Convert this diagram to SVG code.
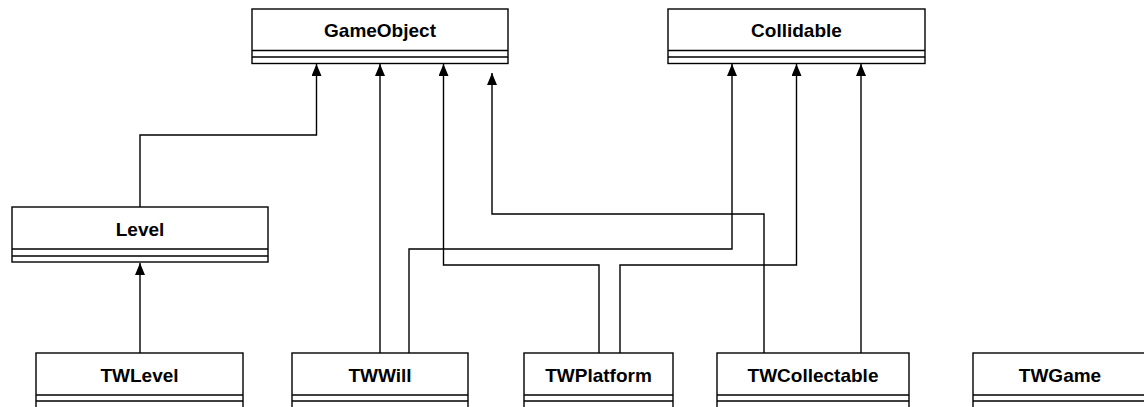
<svg xmlns="http://www.w3.org/2000/svg" width="1144" height="407" viewBox="0 0 1144 407">
<style>
.box{fill:#fff;stroke:#000;stroke-width:1.4}
.div{fill:none;stroke:#000;stroke-width:1.4}
.t{font-family:"Liberation Sans",Arial,sans-serif;font-weight:bold;font-size:19px;fill:#000;text-anchor:middle}
.c{fill:none;stroke:#000;stroke-width:1.4;marker-end:url(#arr)}
</style>
<defs>
<marker id="arr" markerUnits="userSpaceOnUse" markerWidth="13" markerHeight="11" refX="12" refY="5" orient="auto">
<path d="M0,0 L12,5 L0,10 z" fill="#000"/>
</marker>
</defs>
<rect width="1144" height="407" fill="#fff"/>
<g id="connectors">
<path class="c" d="M140,207 V135 H316.5 V64"/>
<path class="c" d="M140,353 V263"/>
<path class="c" d="M380,353 V64"/>
<path class="c" d="M409,353 V249 H732 V64"/>
<path class="c" d="M599,353 V265 H443.5 V64"/>
<path class="c" d="M620,353 V265 H796.5 V64"/>
<path class="c" d="M764,353 V214 H492 V73"/>
<path class="c" d="M861,353 V64"/>
</g>
<g id="GameObject">
<rect class="box" x="252" y="9" width="256" height="54.5"/>
<path class="div" d="M252,50.5 H508 M252,57 H508"/>
<text class="t" x="380" y="37">GameObject</text>
</g>
<g id="Collidable">
<rect class="box" x="668" y="9" width="257" height="54.5"/>
<path class="div" d="M668,50.5 H925 M668,57 H925"/>
<text class="t" x="796.5" y="37">Collidable</text>
</g>
<g id="Level">
<rect class="box" x="12" y="207" width="256" height="55"/>
<path class="div" d="M12,249 H268 M12,256 H268"/>
<text class="t" x="140" y="236">Level</text>
</g>
<g id="TWLevel">
<rect class="box" x="36" y="353" width="207" height="60"/>
<path class="div" d="M36,395 H243 M36,401 H243"/>
<text class="t" x="139.5" y="382">TWLevel</text>
</g>
<g id="TWWill">
<rect class="box" x="292" y="353" width="176" height="60"/>
<path class="div" d="M292,395 H468 M292,401 H468"/>
<text class="t" x="380" y="382">TWWill</text>
</g>
<g id="TWPlatform">
<rect class="box" x="524" y="353" width="149" height="60"/>
<path class="div" d="M524,395 H673 M524,401 H673"/>
<text class="t" x="598.5" y="382">TWPlatform</text>
</g>
<g id="TWCollectable">
<rect class="box" x="717" y="353" width="192" height="60"/>
<path class="div" d="M717,395 H909 M717,401 H909"/>
<text class="t" x="813" y="382">TWCollectable</text>
</g>
<g id="TWGame">
<rect class="box" x="973" y="353" width="175" height="60"/>
<path class="div" d="M973,395 H1148 M973,401 H1148"/>
<text class="t" x="1060" y="382">TWGame</text>
</g>
</svg>
